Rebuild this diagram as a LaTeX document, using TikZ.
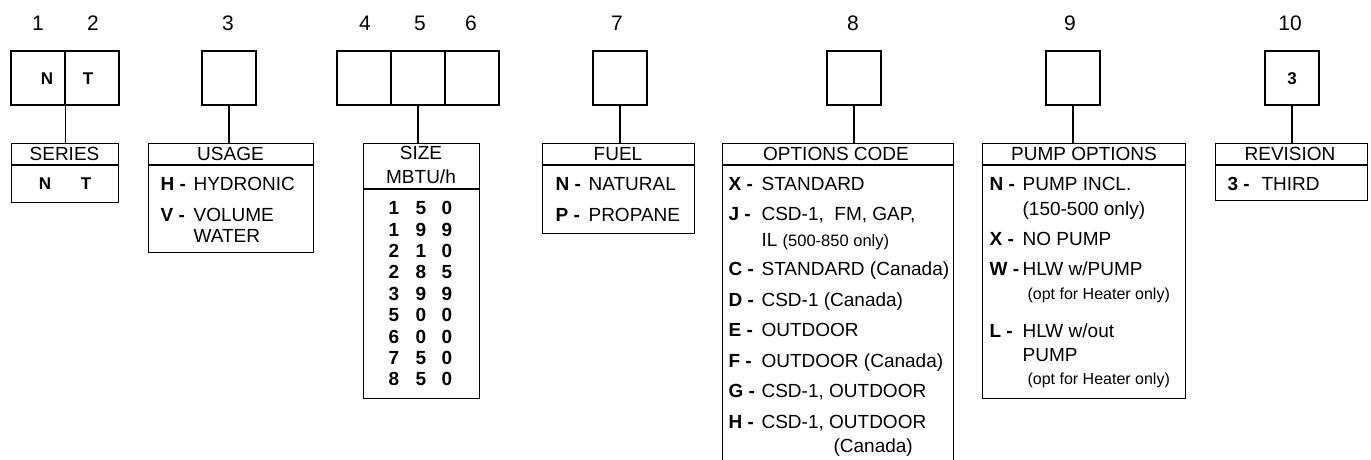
\documentclass[tikz,border=0pt]{standalone}
\usepackage{fontspec}
\setmainfont{Liberation Sans}
\usetikzlibrary{positioning}
\newcommand{\bodyfont}{\fontsize{19}{22}\selectfont}
\newcommand{\notefont}{\fontsize{16}{18}\selectfont}

\begin{document}
\begin{tikzpicture}[x=1pt, y=-1pt, line width=1.2pt,
    digit/.style={draw, minimum width=54pt, minimum height=54pt, inner sep=0pt},
    legend/.style={draw, anchor=north west, inner sep=0pt},
    txt/.style={inner sep=0pt, anchor=west, text height=13.6pt, text depth=0pt, font=\bodyfont},
    key/.style={txt, font=\bodyfont\bfseries},
    head/.style={inner sep=0pt, text height=13.6pt, text depth=0pt, font=\bodyfont},
    posnum/.style={head, text height=15pt, font=\fontsize{21}{24}\selectfont},
    letter/.style={head, font=\fontsize{17}{20}\selectfont\bfseries}]
            % Fixed page size
            \path[use as bounding box] (0,0) rectangle (1371,460);

            % Position numbers
            \foreach \n/\x in {1/38, 2/93, 3/228, 4/365, 5/420, 6/471, 7/617, 8/853, 9/1070, 10/1290} {
                \node[posnum] (num\n) at (\x,23) {\n};
            }

            % Code boxes
            \foreach \n/\x in {1/38, 2/92, 3/229, 4/364, 5/418, 6/472, 7/620, 8/854, 9/1073, 10/1292} {
                \node[digit] (b\n) at (\x,78) {};
            }
            \node[letter] (b1n) at (47,78) {N};
            \node[letter] (b2t) at (88,78) {T};
            \node[letter] (b10n) at (b10) {3};

            % Legend boxes
            \node[legend, minimum width=107pt, minimum height=59pt] (series) at (11,143) {};
            \node[legend, minimum width=165pt, minimum height=109pt] (usage) at (148,143) {};
            \node[legend, minimum width=116pt, minimum height=255pt] (size) at (363,143) {};
            \node[legend, minimum width=152pt, minimum height=90pt] (fuel) at (542,143) {};
            \node[legend, minimum width=231pt, minimum height=330pt] (options) at (722,143) {};
            \node[legend, minimum width=203pt, minimum height=255pt] (pump) at (982,143) {};
            \node[legend, minimum width=152pt, minimum height=57pt] (revision) at (1215,143) {};

            % Header rules
            \foreach \l in {series, usage, fuel, options, pump, revision} {
                \draw (\l.west |- 0,165) -- (\l.east |- 0,165);
            }
            \draw (size.west |- 0,189) -- (size.east |- 0,189);

            % Connections from boxes to legends
            \draw (b1.south east) -- (b1.south east |- series.north);
            \draw (b3.south) -- (b3.south |- usage.north);
            \draw (b5.south) -- (b5.south |- size.north);
            \draw (b7.south) -- (b7.south |- fuel.north);
            \draw (b8.south) -- (b8.south |- options.north);
            \draw (b9.south) -- (b9.south |- pump.north);
            \draw (b10.south) -- (b10.south |- revision.north);

            % Headers
            \node[head] (seriesh) at (64.5,154) {SERIES};
            \node[head] (usageh) at (230.5,154) {USAGE};
            \node[head] (sizeh) at (421,153) {SIZE};
            \node[head] (sizeu) at (421,177) {MBTU/h};
            \node[head] (fuelh) at (618,154) {FUEL};
            \node[head] (optionsh) at (836,154) {OPTIONS CODE};
            \node[head] (pumph) at (1084,154) {PUMP OPTIONS};
            \node[head] (revisionh) at (1290,154) {REVISION};

            % Series
            \node[letter] (seriesn) at (45,183) {N};
            \node[letter] (seriest) at (86,183) {T};

            % Usage
            \node[key] (usageH) at (160,184) {H -};
            \node[txt] (usageHt) at (193,184) {HYDRONIC};
            \node[key] (usageV) at (160,215) {V -};
            \node[txt] (usageVt) at (193,215) {VOLUME};
            \node[txt] (usageVw) at (193,236) {WATER};

            % Sizes
            \foreach \a/\b/\c [count=\i from 0] in {1/5/0, 1/9/9, 2/1/0, 2/8/5, 3/9/9, 5/0/0, 6/0/0, 7/5/0, 8/5/0} {
                \node[key, anchor=center] (sza\i) at (394,{208+21.375*\i}) {\a};
                \node[key, anchor=center] (szb\i) at (421,{208+21.375*\i}) {\b};
                \node[key, anchor=center] (szc\i) at (447,{208+21.375*\i}) {\c};
            }

            % Fuel
            \node[key] (fuelN) at (555,184) {N -};
            \node[txt] (fuelNt) at (588,184) {NATURAL};
            \node[key] (fuelP) at (555,215) {P -};
            \node[txt] (fuelPt) at (588,215) {PROPANE};

            % Options code
            \node[key] (optX) at (728,184) {X -};
            \node[txt] (optXt) at (761,184) {STANDARD};
            \node[key] (optJ) at (728,214) {J -};
            \node[txt] (optJt) at (761,214) {CSD-1,\ \ FM, GAP,};
            \node[txt] (optJn) at (761,240) {IL {\fontsize{16.5}{18}\selectfont(500-850 only)}};
            \node[key] (optC) at (728,269) {C -};
            \node[txt] (optCt) at (761,269) {STANDARD (Canada)};
            \node[key] (optD) at (728,300) {D -};
            \node[txt] (optDt) at (761,300) {CSD-1 (Canada)};
            \node[key] (optE) at (728,330) {E -};
            \node[txt] (optEt) at (761,330) {OUTDOOR};
            \node[key] (optF) at (728,361) {F -};
            \node[txt] (optFt) at (761,361) {OUTDOOR (Canada)};
            \node[key] (optG) at (728,391) {G -};
            \node[txt] (optGt) at (761,391) {CSD-1, OUTDOOR};
            \node[key] (optH) at (728,422) {H -};
            \node[txt] (optHt) at (761,422) {CSD-1, OUTDOOR};
            \node[txt] (optHn) at (833,446) {(Canada)};

            % Pump options
            \node[key] (pumpN) at (989,184) {N -};
            \node[txt] (pumpNt) at (1022,184) {PUMP INCL.};
            \node[txt] (pumpNn) at (1022,209) {(150-500 only)};
            \node[key] (pumpX) at (989,239) {X -};
            \node[txt] (pumpXt) at (1022,239) {NO PUMP};
            \node[key] (pumpW) at (989,269) {W -};
            \node[txt] (pumpWt) at (1022,269) {HLW w/PUMP};
            \node[txt, font=\notefont] (pumpWn) at (1027,293) {(opt for Heater only)};
            \node[key] (pumpL) at (989,331) {L -};
            \node[txt] (pumpLt) at (1022,331) {HLW w/out};
            \node[txt] (pumpLp) at (1022,355) {PUMP};
            \node[txt, font=\notefont] (pumpLn) at (1027,378) {(opt for Heater only)};

            % Revision
            \node[key] (rev3) at (1227,184) {3 -};
            \node[txt] (rev3t) at (1261,184) {THIRD};
        \end{tikzpicture}
\end{document}
